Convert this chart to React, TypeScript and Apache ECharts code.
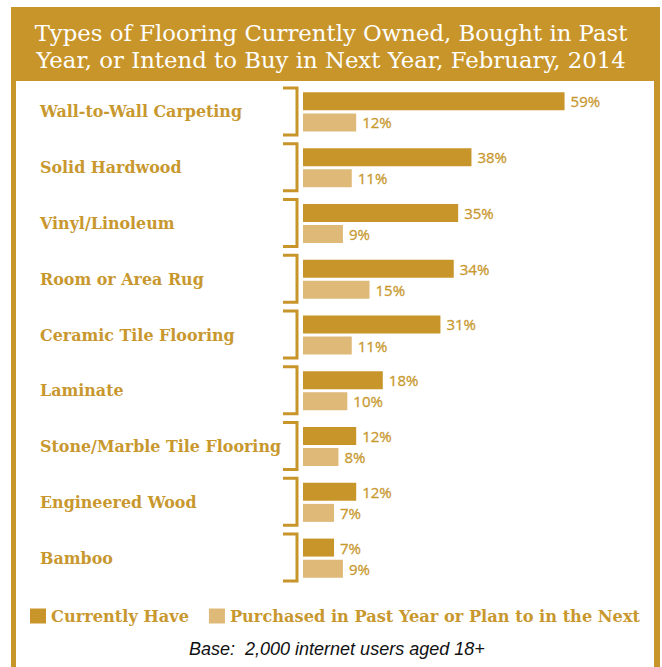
import React, { useEffect, useRef } from "react";
import * as echarts from "echarts";

const categories = [
  "Wall-to-Wall Carpeting",
  "Solid Hardwood",
  "Vinyl/Linoleum",
  "Room or Area Rug",
  "Ceramic Tile Flooring",
  "Laminate",
  "Stone/Marble Tile Flooring",
  "Engineered Wood",
  "Bamboo",
];
const currentlyHave = [59, 38, 35, 34, 31, 18, 12, 12, 7];
const purchasedOrPlan = [12, 11, 9, 15, 11, 10, 8, 7, 9];
const seriesNames = ["Currently Have", "Purchased in Past Year or Plan to in the Next"];
const titleLines = [
  "Types of Flooring Currently Owned, Bought in Past",
  "Year, or Intend to Buy in Next Year, February, 2014",
];
const baseNote = "Base:  2,000 internet users aged 18+";

const GOLD = "#C8952A";
const LIGHT = "#DFB977";
const TEXT_GOLD = "#C8982F";

export default function App() {
  const ref = useRef<HTMLDivElement>(null);
  useEffect(() => {
    if (!ref.current) return;
    const chart = echarts.init(ref.current, undefined, { renderer: "svg" });
    const labelStyle = {
      show: true,
      position: "right",
      distance: 6,
      color: TEXT_GOLD,
      fontFamily: "Open Sans",
      fontSize: 15,
      fontWeight: "normal",
      textBorderColor: TEXT_GOLD,
      textBorderWidth: 0.3,
      formatter: (p: any) => p.value + "%",
    };
    chart.setOption({
      animation: false,
      backgroundColor: "#ffffff",
      title: {
        text: titleLines.join("\n"),
        left: "center",
        top: 14,
        textStyle: {
          color: "#ffffff",
          fontFamily: "DejaVu Serif",
          fontSize: 22.8,
          fontWeight: "normal",
          lineHeight: 27,
        },
        z: 10,
      },
      graphic: [
        { type: "rect", z: 0, silent: true, shape: { x: 11, y: 7, width: 649, height: 670 }, style: { fill: GOLD } },
        { type: "rect", z: 0, silent: true, shape: { x: 16, y: 81, width: 638, height: 600 }, style: { fill: "#ffffff" } },
        {
          type: "text",
          z: 10,
          left: 189,
          top: 640,
          style: {
            text: baseNote,
            fill: "#111111",
            font: "italic 18px 'Liberation Sans'",
          },
        },
      ],
      legend: {
        data: seriesNames,
        left: 25,
        top: 603,
        icon: "rect",
        itemWidth: 16,
        itemHeight: 15,
        itemGap: 20,
        textStyle: {
          color: TEXT_GOLD,
          fontFamily: "DejaVu Serif",
          fontSize: 16.2,
          fontWeight: "bold",
        },
        z: 10,
      },
      grid: { left: 303, top: 84, width: 266, height: 502, containLabel: false },
      xAxis: {
        type: "value",
        min: 0,
        max: 60,
        show: false,
      },
      yAxis: {
        type: "category",
        data: categories,
        inverse: true,
        axisLine: { show: false },
        axisTick: { show: false },
        splitLine: { show: false },
        axisLabel: {
          align: "left",
          margin: 263,
          color: TEXT_GOLD,
          fontFamily: "DejaVu Serif",
          fontSize: 15.9,
          fontWeight: "bold",
        },
      },
      series: [
        {
          name: seriesNames[0],
          type: "bar",
          data: currentlyHave,
          barWidth: 18,
          barGap: "17%",
          itemStyle: { color: GOLD },
          label: labelStyle,
          z: 3,
        },
        {
          name: seriesNames[1],
          type: "bar",
          data: purchasedOrPlan,
          barWidth: 18,
          itemStyle: { color: LIGHT },
          label: labelStyle,
          z: 3,
        },
        {
          type: "custom",
          silent: true,
          z: 3,
          data: categories.map((_, i) => [0, i]),
          encode: { x: 0, y: 1 },
          renderItem: (params: any, api: any) => {
            const c = api.coord([0, api.value(1)]);
            const x = c[0] - 6;
            const y = c[1];
            return {
              type: "polyline",
              shape: {
                points: [
                  [x - 14, y - 24],
                  [x, y - 24],
                  [x, y + 23],
                  [x - 14, y + 23],
                ],
              },
              style: { stroke: GOLD, fill: "none", lineWidth: 3 },
            };
          },
        },
      ],
    });
    return () => chart.dispose();
  }, []);
  return (
    <div
      ref={ref}
      style={{ position: "fixed", left: 0, top: 0, width: 662, height: 667 }}
    />
  );
}
